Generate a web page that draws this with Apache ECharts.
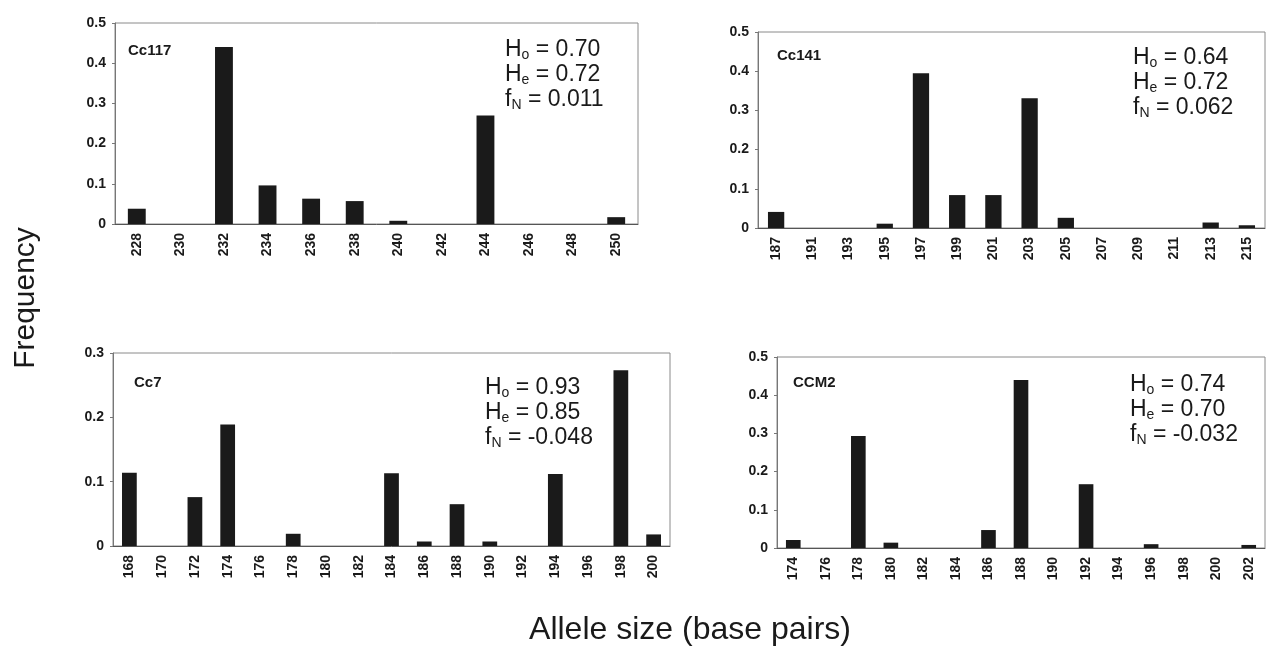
<!DOCTYPE html>
<html>
<head>
<meta charset="utf-8">
<title>Allele frequencies</title>
<script src="https://cdn.jsdelivr.net/npm/echarts@6/dist/echarts.min.js"></script>
<style>
  html, body { margin: 0; padding: 0; background: #fff; }
  #chart { width: 1267px; height: 661px; }
</style>
</head>
<body>
<div id="chart"></div>
<script>
// allele sizes (x categories) and frequencies for each locus
const cc117Alleles = ['228', '230', '232', '234', '236', '238', '240', '242', '244', '246', '248', '250'];
const cc117Freq = [0.038, 0, 0.44, 0.096, 0.063, 0.057, 0.008, 0, 0.27, 0, 0, 0.017];

const cc141Alleles = ['187', '191', '193', '195', '197', '199', '201', '203', '205', '207', '209', '211', '213', '215'];
const cc141Freq = [0.041, 0, 0, 0.011, 0.395, 0.084, 0.084, 0.331, 0.026, 0, 0, 0, 0.014, 0.007];

const cc7Alleles = ['168', '170', '172', '174', '176', '178', '180', '182', '184', '186', '188', '190', '192', '194', '196', '198', '200'];
const cc7Freq = [0.114, 0, 0.076, 0.189, 0, 0.019, 0, 0, 0.113, 0.007, 0.065, 0.007, 0, 0.112, 0, 0.273, 0.018];

const ccm2Alleles = ['174', '176', '178', '180', '182', '184', '186', '188', '190', '192', '194', '196', '198', '200', '202'];
const ccm2Freq = [0.021, 0, 0.293, 0.014, 0, 0, 0.047, 0.44, 0, 0.167, 0, 0.01, 0, 0, 0.008];

// panel labels and statistics
const locusNames = ['Cc117', 'Cc141', 'Cc7', 'CCM2'];
const hoValues = ['0.70', '0.64', '0.93', '0.74'];
const heValues = ['0.72', '0.72', '0.85', '0.70'];
const fnValues = ['0.011', '0.062', '-0.048', '-0.032'];
const yMax = [0.5, 0.5, 0.3, 0.5];

const allAlleles = [cc117Alleles, cc141Alleles, cc7Alleles, ccm2Alleles];
const allFreq = [cc117Freq, cc141Freq, cc7Freq, ccm2Freq];

// plot boxes: left, top, width, height
const boxes = [
  [115, 23, 523, 201],
  [758, 32, 507, 196],
  [113, 353, 557, 193],
  [777, 357, 488, 191]
];
// where the locus name and stats block sit
const namePos = [[128, 43], [777, 48], [134, 375], [793, 375]];
const statPos = [[505, 38], [1133, 46], [485, 376], [1130, 373]];

const font = 'Liberation Sans, Arial, sans-serif';
const ink = '#1a1a1a';

let myecharts = echarts.init(document.getElementById('chart'));

let grids = [], xAxes = [], yAxes = [], series = [], graphics = [];

boxes.forEach((b, i) => {
  grids.push({
    left: b[0], top: b[1], width: b[2], height: b[3],
    show: true, borderColor: '#8a8a8a', borderWidth: 1, backgroundColor: '#fff'
  });
  xAxes.push({
    type: 'category',
    gridIndex: i,
    data: allAlleles[i],
    axisLine: { lineStyle: { color: '#555', width: 1 } },
    axisTick: { show: false },
    axisLabel: {
      rotate: 90, interval: 0, margin: 9,
      fontFamily: font, fontWeight: 'bold', fontSize: 14, color: ink
    }
  });
  yAxes.push({
    type: 'value',
    gridIndex: i,
    min: 0, max: yMax[i], interval: 0.1,
    splitLine: { show: false },
    axisLine: { show: true, lineStyle: { color: '#777', width: 1 } },
    axisTick: { show: true, length: 3, lineStyle: { color: '#777' } },
    axisLabel: { fontFamily: font, fontWeight: 'bold', fontSize: 14, color: ink, margin: 9 }
  });
  series.push({
    type: 'bar',
    xAxisIndex: i, yAxisIndex: i,
    data: allFreq[i],
    barWidth: i === 0 ? '41%' : '45%',
    itemStyle: { color: ink },
    silent: true
  });
  graphics.push({
    type: 'text', left: namePos[i][0], top: namePos[i][1],
    style: { text: locusNames[i], fontFamily: font, fontWeight: 'bold', fontSize: 15, fill: ink }
  });
  graphics.push({
    type: 'text', left: statPos[i][0], top: statPos[i][1],
    style: {
      text: '{n|H}{s|o}{n| = ' + hoValues[i] + '}\n' +
            '{n|H}{s|e}{n| = ' + heValues[i] + '}\n' +
            '{n|f}{s|N}{n| = ' + fnValues[i] + '}',
      fill: ink,
      rich: {
        n: { fontFamily: font, fontSize: 23, lineHeight: 25, fill: ink },
        s: { fontFamily: font, fontSize: 14, lineHeight: 14, verticalAlign: 'bottom', fill: ink }
      }
    }
  });
});

// shared axis titles
graphics.push({
  type: 'text', x: 26, y: 298, rotation: Math.PI / 2,
  style: { text: 'Frequency', fontFamily: font, fontSize: 30, fill: ink, align: 'center', verticalAlign: 'middle' }
});
graphics.push({
  type: 'text', x: 690, y: 630,
  style: { text: 'Allele size (base pairs)', fontFamily: font, fontSize: 32, fill: ink, align: 'center', verticalAlign: 'middle' }
});

let option = {
  animation: false,
  backgroundColor: '#fff',
  grid: grids,
  xAxis: xAxes,
  yAxis: yAxes,
  series: series,
  graphic: graphics
};

myecharts.setOption(option);
</script>
</body>
</html>
